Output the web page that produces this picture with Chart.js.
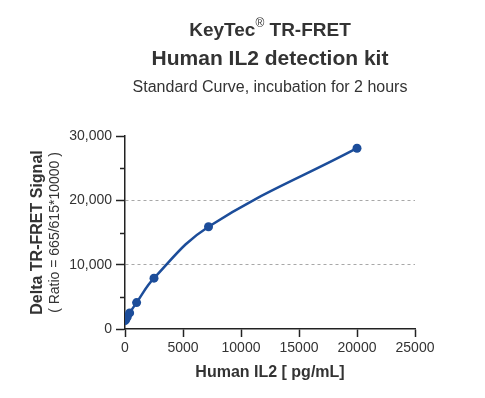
<!DOCTYPE html>
<html>
<head>
<meta charset="utf-8">
<script src="https://cdn.jsdelivr.net/npm/chart.js@4.4.1/dist/chart.umd.min.js"></script>
<style>
  html, body { margin: 0; padding: 0; background: #ffffff; }
  #wrap { width: 485px; height: 398px; }
</style>
</head>
<body>
<div id="wrap"><canvas id="curveChart"></canvas></div>
<script>
// concentrations (pg/mL) and signal values
const conc = [0, 80, 200, 400, 1000, 2500, 7200, 20000];
const signal = [1300, 1500, 1900, 2500, 4100, 7900, 15900, 28100];
const yTicks = [0, 10000, 20000, 30000];
const yMinorTicks = [5000, 15000, 25000];
const xTicks = [0, 5000, 10000, 15000, 20000, 25000];

const titleLines = ['KeyTec', 'Human IL2 detection kit', 'Standard Curve, incubation for 2 hours'];
const yTitle = 'Delta TR-FRET Signal';
const ySubTitle = '( Ratio = 665/615*10000 )';
const xTitle = 'Human IL2 [ pg/mL]';

const FONT = '"Liberation Sans", Arial, Helvetica, sans-serif';
const BLUE = '#1c4d9a';
const TEXT = '#333333';

// titles, y axis title and the short minor ticks on y
const textPlugin = {
  id: 'textPlugin',
  afterDraw(chart) {
    const ctx = chart.ctx;
    const area = chart.chartArea;
    ctx.save();
    ctx.fillStyle = TEXT;
    ctx.textBaseline = 'alphabetic';

    // first title line: "KeyTec" + superscript ® + " TR-FRET"
    ctx.font = 'bold 19px ' + FONT;
    const a = titleLines[0];
    const b = ' TR-FRET';
    const wA = ctx.measureText(a).width;
    const wB = ctx.measureText(b).width;
    ctx.font = '12px ' + FONT;
    const wR = ctx.measureText('®').width;
    let x0 = 270 - (wA + wR + wB) / 2;
    ctx.textAlign = 'left';
    ctx.font = 'bold 19px ' + FONT;
    ctx.fillText(a, x0, 36);
    ctx.font = '12px ' + FONT;
    ctx.fillText('®', x0 + wA, 27);
    ctx.font = 'bold 19px ' + FONT;
    ctx.fillText(b, x0 + wA + wR, 36);

    ctx.textAlign = 'center';
    ctx.font = 'bold 21px ' + FONT;
    ctx.fillText(titleLines[1], 270, 65);
    ctx.font = '16px ' + FONT;
    ctx.fillText(titleLines[2], 270, 92);

    // x axis title
    ctx.font = 'bold 16px ' + FONT;
    ctx.fillText(xTitle, 270, 377);

    // y axis titles, rotated
    const cy = (area.top + area.bottom) / 2;
    ctx.save();
    ctx.translate(42, cy);
    ctx.rotate(-Math.PI / 2);
    ctx.font = 'bold 16px ' + FONT;
    ctx.fillText(yTitle, 0, 0);
    ctx.restore();
    ctx.save();
    ctx.translate(59, cy);
    ctx.rotate(-Math.PI / 2);
    ctx.font = '14px ' + FONT;
    ctx.fillText(ySubTitle, 0, 0);
    ctx.restore();

    // minor ticks
    const yScale = chart.scales.y;
    ctx.strokeStyle = '#222222';
    ctx.lineWidth = 1.5;
    yMinorTicks.forEach((v) => {
      const py = Math.round(yScale.getPixelForValue(v)) + 0.5;
      ctx.beginPath();
      ctx.moveTo(area.left - 5, py);
      ctx.lineTo(area.left, py);
      ctx.stroke();
    });

    ctx.restore();
  }
};

const points = conc.map((c, i) => ({ x: c, y: signal[i] }));

new Chart(document.getElementById('curveChart'), {
  type: 'line',
  data: {
    datasets: [
      {
        data: points,
        borderColor: BLUE,
        backgroundColor: BLUE,
        borderWidth: 2.5,
        pointRadius: 4.5,
        pointHoverRadius: 4.5,
        pointBorderWidth: 0,
        tension: 0.4,
        fill: false,
      },
    ],
  },
  options: {
    responsive: true,
    maintainAspectRatio: false,
    animation: false,
    layout: { padding: { top: 136, right: 70, bottom: 0, left: 0 } },
    plugins: {
      legend: { display: false },
      title: { display: false },
      tooltip: { enabled: false },
    },
    scales: {
      x: {
        type: 'linear',
        min: 0,
        max: 25000,
        afterFit(scale) { scale.height = 69; },
        afterBuildTicks(scale) { scale.ticks = xTicks.map(v => ({ value: v })); },
        ticks: {
          color: TEXT,
          font: { family: FONT, size: 14 },
          padding: 3,
          maxRotation: 0,
          callback: (v) => String(v),
        },
        grid: {
          drawOnChartArea: false,
          drawTicks: true,
          tickLength: 8,
          tickColor: '#222222',
          tickWidth: 1.5,
        },
        border: { color: '#222222', width: 1.5 },
      },
      y: {
        type: 'linear',
        min: 0,
        max: 30000,
        afterFit(scale) { scale.width = 125; },
        afterBuildTicks(scale) { scale.ticks = yTicks.map(v => ({ value: v })); },
        ticks: {
          color: TEXT,
          font: { family: FONT, size: 14 },
          padding: 4,
          callback: (v) => v.toLocaleString('en-US'),
        },
        grid: {
          drawOnChartArea: true,
          drawTicks: true,
          tickLength: 9,
          tickWidth: 1.5,
          tickColor: '#222222',
          tickBorderDash: [],
          lineWidth: 1,
          color: (ctx) => {
            const v = ctx.tick ? ctx.tick.value : 0;
            return (v === 10000 || v === 20000) ? '#a8a8a8' : 'rgba(0,0,0,0)';
          },
        },
        border: { color: '#222222', width: 1.5, dash: [3, 3] },
      },
    },
  },
  plugins: [textPlugin],
});
</script>
</body>
</html>
